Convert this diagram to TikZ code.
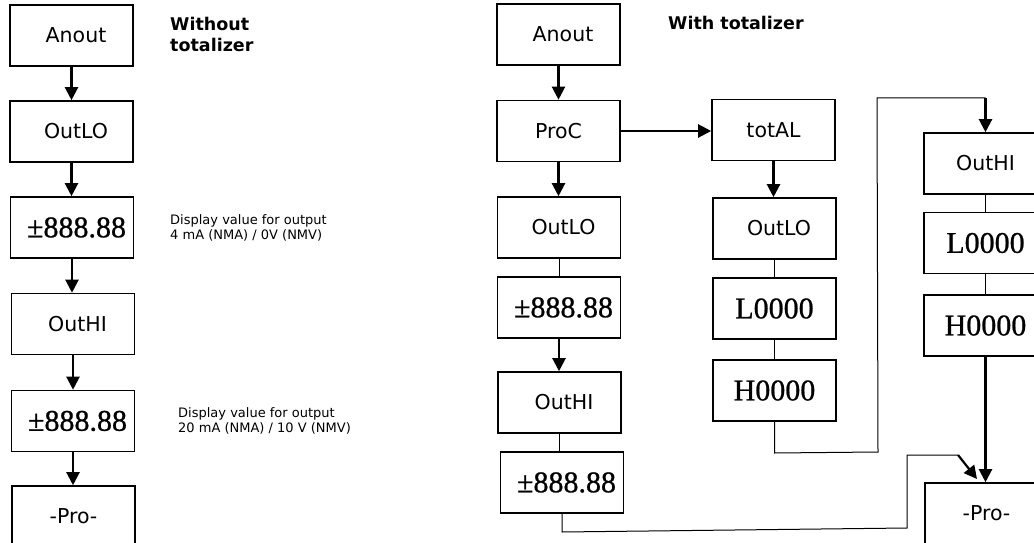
\documentclass[tikz,border=0pt]{standalone}
\usepackage{fontspec}
\setmainfont{DejaVu Sans}
\newfontfamily\digitfont[FakeBold=0.8]{Liberation Serif}
\usetikzlibrary{arrows.meta}
\begin{document}
\begin{tikzpicture}[x=1pt,y=-1pt,
  box/.style={draw, line width=1.6pt, minimum width=123pt, minimum height=61pt, inner sep=0pt, font=\fontsize{20.5}{24}\selectfont},
  numbox/.style={box, font=\digitfont\fontsize{30}{34}\selectfont},
  arr/.style={line width=2.2pt, -{Triangle[length=13pt,width=13pt]}},
  thinline/.style={line width=1pt},
  head/.style={font=\bfseries\fontsize{17.5}{21}\selectfont, inner sep=0pt, align=left},
  note/.style={font=\fontsize{13}{14.5}\selectfont, inner sep=0pt, align=left}
]
\useasboundingbox (0,0) rectangle (1034,543);
\clip (0,0) rectangle (1034,543);
% left column
\node[box] (LA) at (71.5,35.5) {\hspace*{9pt}Anout};
\node[box] (LLO) at (71.5,131.5) {\hspace*{9pt}OutLO};
\node[numbox] (LD1) at (72,227.5) {\hspace*{9pt}±888.88};
\node[box] (LHI) at (73,324) {\hspace*{9pt}OutHI};
\node[numbox] (LD2) at (73,421) {\hspace*{9pt}±888.88};
\node[box] (LP) at (73.5,516.5) {-Pro-};
\draw[arr] (LA.south) -- (LA.south |- LLO.north);
\draw[arr] (LLO.south) -- (LLO.south |- LD1.north);
\draw[arr] (LD1.south) -- (LD1.south |- LHI.north);
\draw[arr] (LHI.south) -- (LHI.south |- LD2.north);
\draw[arr] (LD2.south) -- (LD2.south |- LP.north);
\node[head, anchor=north west] (t1) at (170,17) {Without\\totalizer};
\node[note, anchor=west] (n1) at (170,228) {Display value for output\\4 mA (NMA) / 0V (NMV)};
\node[note, anchor=west] (n2) at (178,421) {Display value for output\\20 mA (NMA) / 10 V (NMV)};
% right: second column
\node[box] (RA) at (558.5,34.5) {\hspace*{9pt}Anout};
\node[box] (RPC) at (558.5,131) {ProC};
\node[box] (RLO) at (559,227.5) {\hspace*{9pt}OutLO};
\node[numbox] (RD1) at (559,307.5) {\hspace*{9pt}±888.88};
\node[box] (RHI) at (559.5,402.5) {\hspace*{9pt}OutHI};
\node[numbox] (RD2) at (562,482.5) {\hspace*{9pt}±888.88};
\draw[arr] (RA.south) -- (RA.south |- RPC.north);
\draw[arr] (RPC.south) -- (RPC.south |- RLO.north);
\draw[thinline] (RLO.south) -- (RLO.south |- RD1.north);
\draw[arr] (RD1.south) -- (RD1.south |- RHI.north);
\draw[thinline] (RHI.south) -- (RHI.south |- RD2.north);
\node[head, anchor=base west] (t2) at (668,30) {With totalizer};
% totalizer column
\node[box] (TA) at (773.5,130) {totAL};
\node[box] (TLO) at (774.5,228.5) {\hspace*{9pt}OutLO};
\node[numbox] (TL) at (774.5,308.5) {L0000};
\node[numbox] (TH) at (774.5,390.5) {H0000};
\draw[arr] (RPC.east) -- (RPC.east -| TA.west);
\draw[arr] (TA.south) -- (TA.south |- TLO.north);
\draw[thinline] (TLO.south) -- (TLO.south |- TL.north);
\draw[thinline] (TL.south) -- (TL.south |- TH.north);
% far right column
\node[box] (FHI) at (985.5,163.5) {OutHI};
\node[numbox] (FL) at (985.5,243) {L0000};
\node[numbox] (FH) at (985.5,325.5) {H0000};
\node[box] (FP) at (986.5,513.5) {-Pro-};
\draw[thinline] (FHI.south) -- (FHI.south |- FL.north);
\draw[thinline] (FL.south) -- (FL.south |- FH.north);
\draw[arr] (FH.south) -- (FH.south |- FP.north);
% loop connectors
\coordinate (p1) at (774.5,453);
\coordinate (p2) at (878,452);
\coordinate (p3) at (877,98);
\coordinate (p4) at (985.5,98);
\draw[thinline] (TH.south) -- (p1) -- (p2) -- (p3) -- (p4);
\draw[arr] (p4) -- (FHI.north);
\coordinate (q1) at (562,532);
\coordinate (q2) at (907,528);
\coordinate (q3) at (907,455);
\coordinate (q4) at (958,455);
\coordinate (q5) at (977,479);
\draw[thinline] (RD2.south) -- (q1) -- (q2) -- (q3) -- (q4);
\draw[arr] (q4) -- (q5);
\end{tikzpicture}
\end{document}
